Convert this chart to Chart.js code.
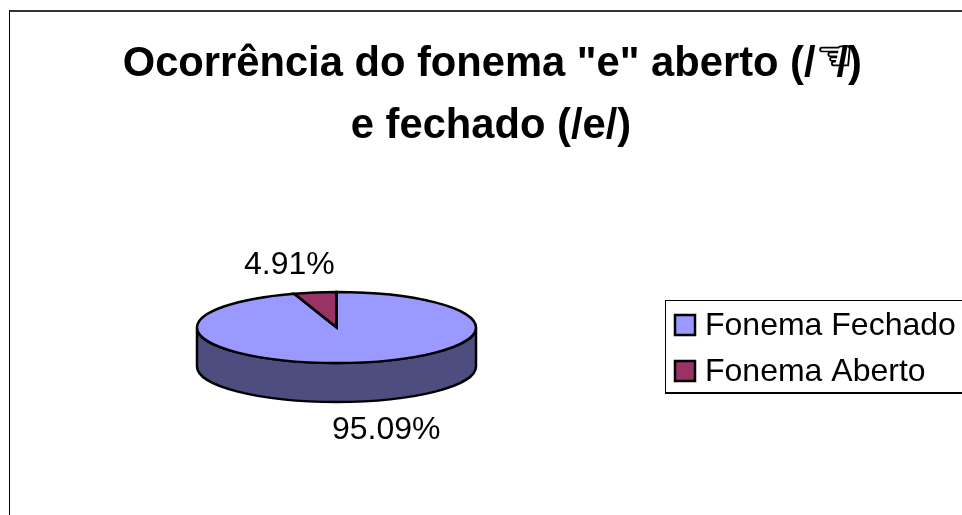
<!DOCTYPE html>
<html lang="pt">
<head>
<meta charset="utf-8">
<title>Ocorrência do fonema "e"</title>
<script src="https://cdn.jsdelivr.net/npm/chart.js@4/dist/chart.umd.min.js"></script>
<style>
    html, body { margin: 0; padding: 0; background: #fff; overflow: hidden; }
    canvas { display: block; }
</style>
</head>
<body>
<canvas id="phonemeChart" width="962" height="515"></canvas>
<script>
// Chart data
const categories = ['Fonema Fechado', 'Fonema Aberto'];
const percentages = [95.09, 4.91];
const sliceColors = ['#9999FF', '#993366'];
const titleLineOneStart = 'Ocorrência do fonema "e" aberto (/';
const titleLineOneHand = '\u261C';
const titleLineOneEnd = '/)';
const titleLineTwo = 'e fechado (/e/)';

const FONT = '"Liberation Sans", Arial, sans-serif';
const SIDE_COLOR = '#4D4D80';

// Where the flattened pie ends up on the page
const pieCenterX = 336.5;
const pieCenterY = 327.5;
const pieRadiusY = 35.5;
const pieDepth = 39;

// Squash the round pie into an ellipse and add the side wall
const flatPiePlugin = {
    id: 'flatPie',
    beforeDatasetsDraw(chart) {
        const ctx = chart.ctx;
        const arc = chart.getDatasetMeta(0).data[0];
        const r = arc.outerRadius;

        // side wall
        ctx.save();
        ctx.beginPath();
        ctx.ellipse(pieCenterX, pieCenterY, r, pieRadiusY, 0, 0, Math.PI);
        ctx.lineTo(pieCenterX - r, pieCenterY + pieDepth);
        ctx.ellipse(pieCenterX, pieCenterY + pieDepth, r, pieRadiusY, 0, Math.PI, 0, true);
        ctx.closePath();
        ctx.fillStyle = SIDE_COLOR;
        ctx.fill();
        ctx.lineWidth = 2.5;
        ctx.strokeStyle = '#000';
        ctx.stroke();
        ctx.restore();

        ctx.save();
        ctx.translate(pieCenterX, pieCenterY);
        ctx.scale(1, pieRadiusY / r);
        ctx.translate(-arc.x, -arc.y);
    },
    afterDatasetsDraw(chart) {
        const ctx = chart.ctx;
        ctx.restore();

        // outlines are drawn after the scale so the line keeps its width
        const scaleY = pieRadiusY / chart.getDatasetMeta(0).data[0].outerRadius;
        chart.getDatasetMeta(0).data.forEach(arc => {
            ctx.save();
            ctx.beginPath();
            ctx.ellipse(pieCenterX, pieCenterY, arc.outerRadius, arc.outerRadius * scaleY, 0, arc.startAngle, arc.endAngle);
            ctx.lineTo(pieCenterX, pieCenterY);
            ctx.closePath();
            ctx.lineWidth = 2.5;
            ctx.lineJoin = 'miter';
            ctx.strokeStyle = '#000';
            ctx.stroke();
            ctx.restore();
        });
    }
};

// Frame, title, percent labels and legend
const annotationsPlugin = {
    id: 'annotations',
    afterDraw(chart) {
        const ctx = chart.ctx;
        ctx.save();
        ctx.textBaseline = 'alphabetic';

        // outer frame
        ctx.fillStyle = '#333';
        ctx.fillRect(9, 10, 953, 2);
        ctx.fillStyle = '#000';
        ctx.fillRect(9, 10, 1, 505);

        // title
        ctx.font = 'bold 41.7px ' + FONT;
        ctx.textAlign = 'left';
        const startWidth = ctx.measureText(titleLineOneStart).width;
        const endWidth = ctx.measureText(titleLineOneEnd).width;
        const titleLeft = 862 - (startWidth + 21 + endWidth);
        ctx.fillText(titleLineOneStart, titleLeft, 76);
        ctx.fillText(titleLineOneEnd, titleLeft + startWidth + 21, 76);
        ctx.textAlign = 'center';
        ctx.fillText(titleLineTwo, 491, 138);

        // pointing hand sits over the second slash, as in the original
        ctx.font = 'bold 42px "DejaVu Sans"';
        ctx.textAlign = 'left';
        ctx.lineWidth = 1;
        ctx.strokeStyle = '#000';
        ctx.fillText(titleLineOneHand, 816, 70);
        ctx.strokeText(titleLineOneHand, 816, 70);

        // percent labels
        ctx.font = '32px ' + FONT;
        ctx.fillText(percentages[1].toFixed(2) + '%', 244, 274);
        ctx.fillText(percentages[0].toFixed(2) + '%', 332, 439);

        // legend
        ctx.fillStyle = '#000';
        ctx.fillRect(665, 300, 297, 1);
        ctx.fillRect(665, 392, 297, 2);
        ctx.fillRect(665, 300, 1, 93);
        categories.forEach((name, i) => {
            const top = 315 + i * 46;
            ctx.fillStyle = sliceColors[i];
            ctx.fillRect(675, top, 20, 20);
            ctx.lineWidth = 2.5;
            ctx.strokeStyle = '#000';
            ctx.strokeRect(675, top, 20, 20);
            ctx.fillStyle = '#000';
            ctx.fillText(name, 705, top + 20);
        });
        ctx.restore();
    }
};

// Create Pie Chart
const ctx = document.getElementById('phonemeChart').getContext('2d');
new Chart(ctx, {
    type: 'pie',
    data: {
        labels: categories,
        datasets: [{
            data: percentages,
            backgroundColor: sliceColors,
            borderWidth: 0,
            clip: false
        }]
    },
    options: {
        responsive: false,
        animation: false,
        layout: {
            padding: { left: 197, right: 486, top: 100, bottom: 136 }
        },
        plugins: {
            legend: { display: false },
            title: { display: false },
            tooltip: { enabled: false }
        }
    },
    plugins: [flatPiePlugin, annotationsPlugin]
});
</script>
</body>
</html>
